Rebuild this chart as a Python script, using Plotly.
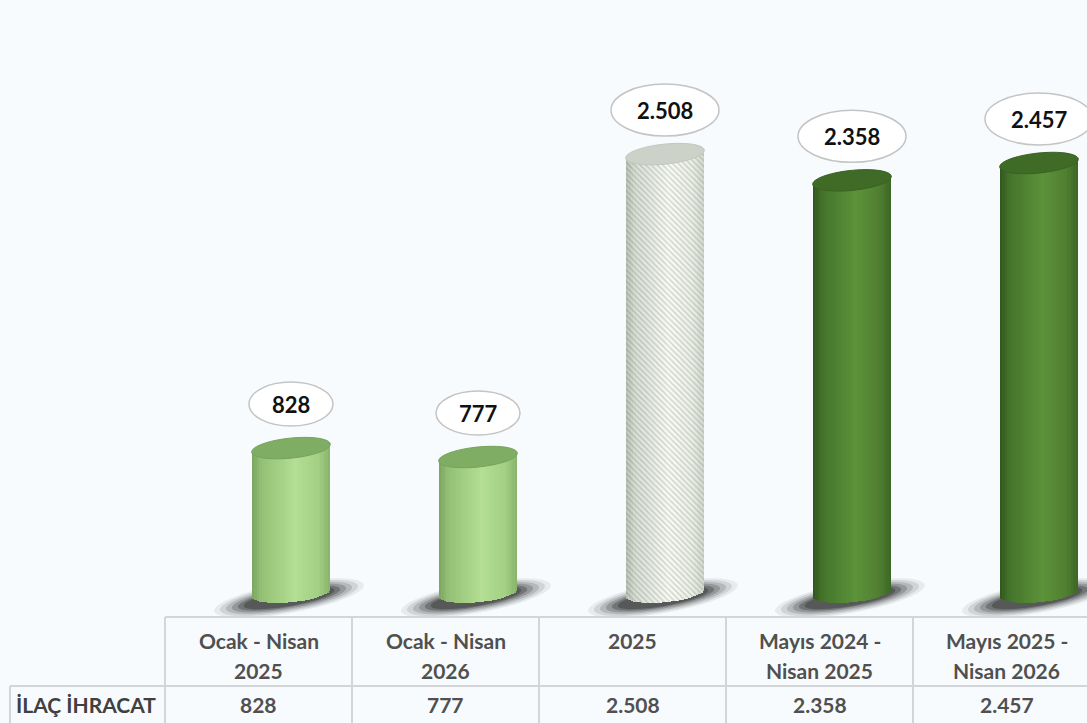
import numpy as np
import plotly.graph_objects as go

# ---------------- data ----------------
header_lines = [["Ocak - Nisan", "2025"], ["Ocak - Nisan", "2026"], ["2025", ""],
                ["Mayıs 2024 -", "Nisan 2025"], ["Mayıs 2025 -", "Nisan 2026"]]
values = [828, 777, 2508, 2358, 2457]
row_label = "İLAÇ İHRACAT"
bar_styles = ["light", "light", "white", "dark", "dark"]


def fmt(v):
    return f"{v:,}".replace(",", ".")


value_labels = [fmt(v) for v in values]

# ---------------- geometry / style ----------------
W, H = 1087, 723
PX_X = 187.0
X_LO = -291.0 / PX_X
X_HI = X_LO + W / PX_X
PX_Y = 0.175
ZERO_PX = 593.0
Y_LO = -(H - ZERO_PX) / PX_Y
Y_HI = Y_LO + H / PX_Y
BG = "#f7fbfd"
FONT = "Lato"

BAR_PX = 78.0
bar_w = BAR_PX / PX_X
N = 32
TILT = 4.0
B_TOP = 10.0
B_BOT = 9.0
TABLE_SHIFT = -32.5 / PX_X

palettes = {
    "light": dict(stops=[(0.0, "#7aa461"), (0.12, "#93c174"), (0.55, "#b3de94"), (0.85, "#a3d084"), (1.0, "#86b369")],
                  top="#7fad64", topline="#77a35d"),
    "dark": dict(stops=[(0.0, "#30551f"), (0.12, "#44742b"), (0.55, "#5c9239"), (0.85, "#507f31"), (1.0, "#3b6524")],
                 top="#3f6b26", topline="#3a6322"),
    "white": dict(stops=[(0.0, "#b9c1b5"), (0.12, "#d9e0d4"), (0.55, "#f8fbf4"), (0.85, "#ebf0e6"), (1.0, "#d1d8cc")],
                  top="#cdd2c9", topline="#c3c8bf"),
}


def hex2rgb(h):
    h = h.lstrip("#")
    return np.array([int(h[i:i + 2], 16) for i in (0, 2, 4)], dtype=float)


def shade(style, u):
    stops = palettes[style]["stops"]
    for (u0, c0), (u1, c1) in zip(stops[:-1], stops[1:]):
        if u0 <= u <= u1:
            t = (u - u0) / (u1 - u0)
            c = hex2rgb(c0) * (1 - t) + hex2rgb(c1) * t
            return "rgb(%d,%d,%d)" % tuple(np.round(c))
    return stops[-1][1]


def ellipse_path(a, b, theta, cx=0.0, cy=0.0, n=48):
    t = np.linspace(0, 2 * np.pi, n, endpoint=False)
    xs = cx + a * np.cos(t) * np.cos(theta) - b * np.sin(t) * np.sin(theta)
    ys = cy + a * np.cos(t) * np.sin(theta) + b * np.sin(t) * np.cos(theta)
    pts = ["%.2f,%.2f" % (x, y) for x, y in zip(xs, ys)]
    return "M" + " L".join(pts) + " Z"


x_idx = list(range(len(values)))
fig = go.Figure()

# cylinder bodies as vertical shaded strips
for k in range(N):
    u = (k + 0.5) / N
    s = 2 * u - 1
    top_off = TILT * s / PX_Y
    bot_off = (TILT * s - B_BOT * np.sqrt(max(0.0, 1 - s * s))) / PX_Y
    base = [bot_off] * len(values)
    heights = [v + top_off - bot_off for v in values]
    sw = bar_w / N
    width = sw * (1.6 if k < N - 1 else 1.0)
    colors = [shade(st, u) for st in bar_styles]
    fig.add_trace(go.Bar(
        x=x_idx, y=heights, base=base,
        offset=-bar_w / 2 + k * sw, width=width,
        marker=dict(color=colors, line=dict(width=0),
                    pattern=dict(shape=["\\" if st == "white" else "" for st in bar_styles],
                                 fillmode="overlay", fgcolor="#8f9989", fgopacity=0.22,
                                 size=4, solidity=0.35)),
        hoverinfo="skip", showlegend=False,
    ))

shapes = []
theta_top = np.arcsin(TILT / (BAR_PX / 2))

# shadows at base
for a, b, op in [(76, 15, 0.07), (70, 13.5, 0.11), (64, 12, 0.15), (58, 10.5, 0.2), (52, 9, 0.28), (46, 8, 0.3)]:
    p = ellipse_path(a, b, np.radians(10), cx=-2, cy=-5)
    for i in x_idx:
        shapes.append(dict(type="path", xref="x", yref="y", xsizemode="pixel", ysizemode="pixel",
                           xanchor=i, yanchor=0, path=p, fillcolor="#1a1a1a", opacity=op,
                           line=dict(width=0), layer="below"))

# top ellipses
top_path = ellipse_path(BAR_PX / 2 + 0.5, B_TOP, theta_top)
for i, v, st in zip(x_idx, values, bar_styles):
    shapes.append(dict(type="path", xref="x", yref="y", xsizemode="pixel", ysizemode="pixel",
                       xanchor=i, yanchor=v, path=top_path, fillcolor=palettes[st]["top"],
                       line=dict(width=1, color=palettes[st]["topline"]), layer="above"))

# value callout ellipses
LABEL_UP = 44
annotations = []
for i, v, lab in zip(x_idx, values, value_labels):
    hw = 42 if len(lab) <= 3 else 54
    hh = 22 if len(lab) <= 3 else 26
    shapes.append(dict(type="circle", xref="x", yref="y", xsizemode="pixel", ysizemode="pixel",
                       xanchor=i, yanchor=v, x0=-hw, x1=hw, y0=LABEL_UP - hh, y1=LABEL_UP + hh,
                       fillcolor="#ffffff", line=dict(color="#c4c4c4", width=1.5), layer="above"))
    annotations.append(dict(x=i, y=v, xref="x", yref="y", yshift=LABEL_UP, text="<b>%s</b>" % lab,
                            showarrow=False, font=dict(family=FONT, size=22, color="#111111")))

# data table
LINE = dict(color="#d3d6d8", width=2)


def py(px):
    return 1 - px / H


TOP_Y, MID_Y, BOT_Y = 617, 686, 723
shapes.append(dict(type="line", xref="x", yref="paper", x0=-0.5 + TABLE_SHIFT, x1=X_HI,
                   y0=py(TOP_Y), y1=py(TOP_Y), line=LINE, layer="above"))
shapes.append(dict(type="line", xref="paper", yref="paper", x0=10 / W, x1=1,
                   y0=py(MID_Y), y1=py(MID_Y), line=LINE, layer="above"))
shapes.append(dict(type="line", xref="paper", yref="paper", x0=10 / W, x1=10 / W,
                   y0=py(MID_Y), y1=py(BOT_Y), line=LINE, layer="above"))
for i in x_idx:
    shapes.append(dict(type="line", xref="x", yref="paper", x0=i - 0.5 + TABLE_SHIFT, x1=i - 0.5 + TABLE_SHIFT,
                       y0=py(TOP_Y), y1=py(BOT_Y), line=LINE, layer="above"))

HDR_COLOR = "#505050"
for i, (l1, l2), lab in zip(x_idx, header_lines, value_labels):
    annotations.append(dict(x=i + TABLE_SHIFT, y=py(640), xref="x", yref="paper", text="<b>%s</b>" % l1,
                            showarrow=False, yanchor="middle",
                            font=dict(family=FONT, size=21, color=HDR_COLOR)))
    if l2:
        annotations.append(dict(x=i + TABLE_SHIFT, y=py(670), xref="x", yref="paper", text="<b>%s</b>" % l2,
                                showarrow=False, yanchor="middle",
                                font=dict(family=FONT, size=21, color=HDR_COLOR)))
    annotations.append(dict(x=i + TABLE_SHIFT, y=py(704), xref="x", yref="paper", text="<b>%s</b>" % lab,
                            showarrow=False, yanchor="middle",
                            font=dict(family=FONT, size=21, color=HDR_COLOR)))
annotations.append(dict(x=14 / W, y=py(704), xref="paper", yref="paper", text="<b>%s</b>" % row_label,
                        showarrow=False, xanchor="left", yanchor="middle",
                        font=dict(family=FONT, size=21, color="#404040")))

fig.update_layout(
    width=W, height=H, margin=dict(l=0, r=0, t=0, b=0),
    paper_bgcolor=BG, plot_bgcolor="rgba(0,0,0,0)",
    barmode="overlay", bargap=0,
    xaxis=dict(range=[X_LO, X_HI], visible=False, fixedrange=True),
    yaxis=dict(range=[Y_LO, Y_HI], visible=False, fixedrange=True),
    shapes=shapes, annotations=annotations, showlegend=False,
)

fig.write_html("out.html", config={"displayModeBar": False},
               post_script="document.body.style.margin='0';document.body.style.background='%s';" % BG)
